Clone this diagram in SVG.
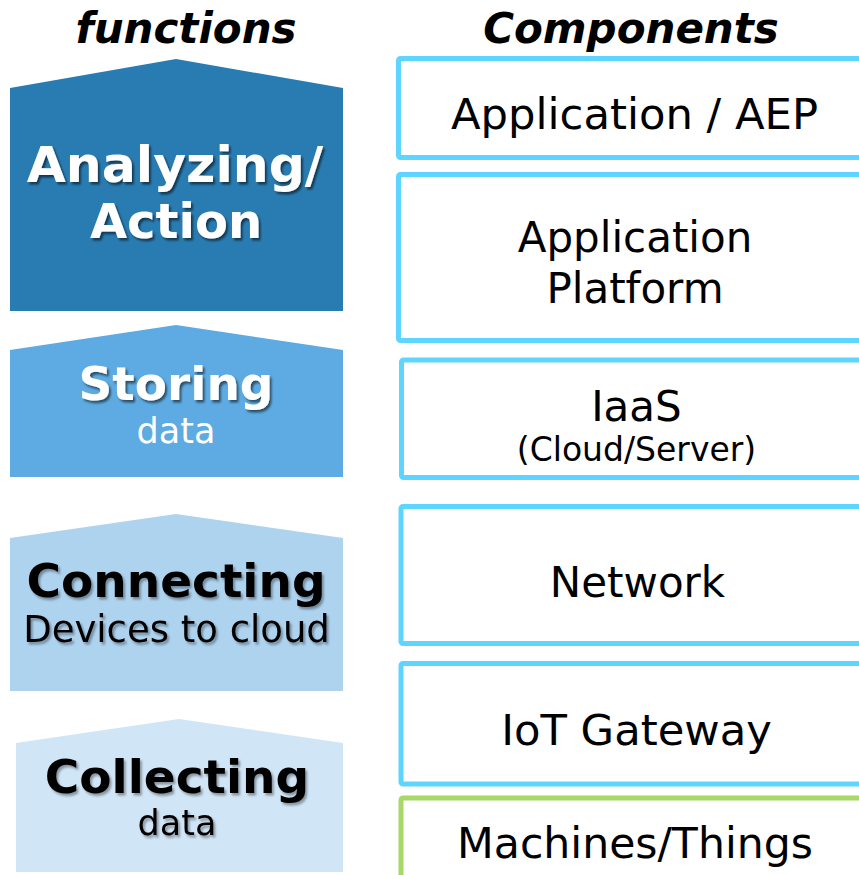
<svg xmlns="http://www.w3.org/2000/svg" width="859" height="875" viewBox="0 0 859 875">
<defs>
<filter id="sh" x="-10%" y="-20%" width="130%" height="150%">
<feDropShadow dx="2" dy="2.5" stdDeviation="1.2" flood-color="#000" flood-opacity="0.55"/>
</filter>
<filter id="shl" x="-10%" y="-20%" width="130%" height="150%">
<feDropShadow dx="2" dy="2.5" stdDeviation="1.2" flood-color="#000" flood-opacity="0.35"/>
</filter>
</defs>
<style>
text{font-family:"DejaVu Sans",Verdana,sans-serif;text-anchor:middle}
.hd{font-weight:bold;font-style:italic;font-size:42px;fill:#000}
.big{font-weight:bold;font-size:47px}
.sub{font-size:35px}
.cmp{font-size:42px;fill:#000}
.box{fill:#fff;stroke:#5DD5FF;stroke-width:5}
.grn{fill:#fff;stroke:#A6D86A;stroke-width:5}
.w{fill:#fff}
.k{fill:#000}
</style>
<rect width="859" height="875" fill="#fff"/>
<text class="hd" x="186" y="43">functions</text>
<text class="hd" x="631" y="43">Components</text>

<g id="analyzing">
<polygon points="10,88 176,59 343,88 343,311 10,311" fill="#297CB2"/>
<text class="big w" x="175" y="182" style="font-size:50.5px" filter="url(#sh)">Analyzing/</text>
<text class="big w" x="176" y="238" style="font-size:48px" filter="url(#sh)">Action</text>
</g>
<g id="storing">
<polygon points="10,350 176,325 343,350 343,477 10,477" fill="#5DABE2"/>
<text class="big w" x="176" y="400" filter="url(#sh)">Storing</text>
<text class="sub w" x="176" y="443">data</text>
</g>
<g id="connecting">
<polygon points="10,538 176,514 343,538 343,691 10,691" fill="#AED3EF"/>
<text class="big k" x="176" y="597" filter="url(#shl)">Connecting</text>
<text class="k" x="176.5" y="642" font-size="37" filter="url(#shl)">Devices to cloud</text>
</g>
<g id="collecting">
<polygon points="16,743 179,719 343,743 343,872 16,872" fill="#D0E5F6"/>
<text class="big k" x="177" y="793" filter="url(#shl)">Collecting</text>
<text class="sub k" x="177" y="835" filter="url(#shl)">data</text>
</g>

<g id="aep">
<rect class="box" x="398.5" y="58.5" width="480" height="99" rx="2"/>
<text class="cmp" x="634.5" y="129" style="font-size:43.3px">Application / AEP</text>
</g>
<g id="platform">
<rect class="box" x="398.5" y="174.5" width="480" height="166" rx="2"/>
<text class="cmp" x="635" y="252">Application</text>
<text class="cmp" x="635" y="303">Platform</text>
</g>
<g id="iaas">
<rect class="box" x="401.5" y="360" width="480" height="117.5" rx="2"/>
<text class="cmp" x="636.5" y="421">IaaS</text>
<text class="k" x="636.5" y="461" font-size="33">(Cloud/Server)</text>
</g>
<g id="network">
<rect class="box" x="401" y="506.5" width="480" height="137" rx="2"/>
<text class="cmp" x="637.5" y="597">Network</text>
</g>
<g id="gateway">
<rect class="box" x="401" y="663.5" width="480" height="120.5" rx="2"/>
<text class="cmp" x="636.5" y="745" style="font-size:43.3px">IoT Gateway</text>
</g>
<g id="things">
<rect class="grn" x="401" y="798" width="480" height="100" rx="2"/>
<text class="cmp" x="635" y="858" style="font-size:42.6px">Machines/Things</text>
</g>
<g id="connectors"></g>
</svg>
